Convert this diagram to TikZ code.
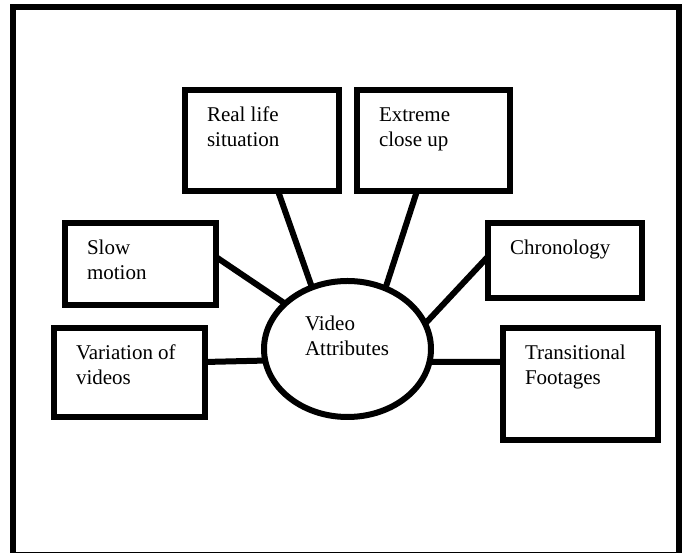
\documentclass[tikz,border=0pt]{standalone}
\usepackage{fontspec}
\setmainfont{Liberation Serif}
\usetikzlibrary{shapes.geometric}
\begin{document}
\begin{tikzpicture}[x=1pt, y=1pt, font=\fontsize{21}{24.5}\selectfont,
		box/.style={draw, line width=6pt, inner sep=0pt, outer sep=0pt},
		txt/.style={anchor=base west, inner sep=0pt, outer sep=0pt},
		conn/.style={line width=6pt}]
	\useasboundingbox (0,0) rectangle (683,553);
	\draw[line width=5.5pt] (13,-1.5) rectangle (679,546);
	\node[box, ellipse, minimum width=167, minimum height=136, label={[txt, xshift=41, yshift=18]west:\parbox[t]{4cm}{Video\\Attributes}}] (va) at (347.5,204) {};
	\foreach \n/\x/\y/\w/\h/\t in {real/262/412.5/154/101/{Real life\\situation}, ext/433.5/412.5/153/101/{Extreme\\close up}, slow/140.5/289/151/82/{Slow\\motion}, chr/565/292.5/154/75/{Chronology}, var/129.5/180.5/151/89/{Variation of\\videos}, tra/580.5/169/155/112/{Transitional\\Footages}}
		{\node[box, minimum width=\w, minimum height=\h, label={[txt, xshift=22, yshift=-32]north west:\parbox[t]{5cm}{\t}}] (\n) at (\x,\y) {};}
	\draw[conn] ([yshift=7]slow.east) -- (va.144);
	\draw[conn] ([xshift=16]real.south) -- (va.120);
	\draw[conn] ([xshift=-16.5]ext.south) -- (va.58);
	\draw[conn] ([yshift=4]chr.west) -- (va.18);
	\draw[conn] ([yshift=10.5]var.east) -- (va.188);
	\draw[conn] ([yshift=22]tra.west) -- (va.-9);
\end{tikzpicture}
\end{document}
